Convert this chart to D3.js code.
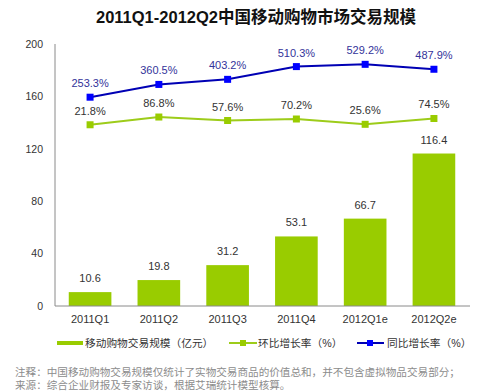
<!DOCTYPE html>
<html>
<head>
<meta charset="utf-8">
<script src="https://cdn.jsdelivr.net/npm/d3@7"></script>
<style>
  body { margin: 0; background: #fff; }
  svg { display: block; }
</style>
</head>
<body>
<div id="chart"></div>
<script>
// data
var categories = ['2011Q1', '2011Q2', '2011Q3', '2011Q4', '2012Q1e', '2012Q2e'];
var scaleValues = [10.6, 19.8, 31.2, 53.1, 66.7, 116.4];          // 移动购物交易规模（亿元）
var qoqValues = [21.8, 86.8, 57.6, 70.2, 25.6, 74.5];               // 环比增长率（%）
var yoyValues = [253.3, 360.5, 403.2, 510.3, 529.2, 487.9];         // 同比增长率（%）
var yTicks = [0, 40, 80, 120, 160, 200];
var titleText = '2011Q1-2012Q2中国移动购物市场交易规模';
var legendLabels = ['移动购物交易规模（亿元）', '环比增长率（%）', '同比增长率（%）'];
var noteLines = [
    '注释：中国移动购物交易规模仅统计了实物交易商品的价值总和，并不包含虚拟物品交易部分；',
    '来源：综合企业财报及专家访谈，根据艾瑞统计模型核算。'
];

var attrs = {
    width: 482,
    height: 392,
    left: 55,
    right: 469,
    top: 44,
    bottom: 306,
    font: '"Liberation Sans", "Noto Sans CJK SC", sans-serif',
    barColor: '#99cc00',
    greenLine: '#9dcc1a',
    blueLine: '#0000b4',
    blueMark: '#0000ff',
    axisColor: '#8a8a8a',
    textColor: '#333',
    blueText: '#33339a',
    noteColor: '#8c8c8c'
};

var svg = d3.select('#chart').append('svg')
    .attr('width', attrs.width)
    .attr('height', attrs.height)
    .attr('font-family', attrs.font);

// scales
var x = d3.scaleBand()
    .domain(categories)
    .range([attrs.left, attrs.right])
    .paddingInner(0.38)
    .paddingOuter(0.2);

var y = d3.scaleLinear()
    .domain([0, 200])
    .range([attrs.bottom, attrs.top]);

// hidden secondary axis for the rates
var y2 = d3.scaleLinear()
    .domain([-1500, 700])
    .range([attrs.bottom, attrs.top]);

// title
svg.append('text')
    .attr('x', 256)
    .attr('y', 23)
    .attr('text-anchor', 'middle')
    .attr('font-size', 16.5)
    .attr('font-weight', 'bold')
    .attr('fill', '#111')
    .text(titleText);

// y axis
var yAxis = d3.axisLeft(y).tickValues(yTicks).tickSize(0).tickPadding(12);
var gy = svg.append('g')
    .attr('transform', 'translate(' + attrs.left + ',0)')
    .call(yAxis);
gy.select('.domain').attr('stroke', attrs.axisColor).attr('d', 'M0,' + attrs.top + 'V' + attrs.bottom);
gy.selectAll('text').attr('font-size', 10.5).attr('fill', attrs.textColor).attr('font-family', attrs.font);

// bars
svg.append('g').selectAll('rect')
    .data(scaleValues)
    .join('rect')
    .attr('x', (d, i) => x(categories[i]))
    .attr('y', d => y(d))
    .attr('width', x.bandwidth())
    .attr('height', d => y(0) - y(d))
    .attr('fill', attrs.barColor);

svg.append('g').selectAll('text')
    .data(scaleValues)
    .join('text')
    .attr('x', (d, i) => x(categories[i]) + x.bandwidth() / 2)
    .attr('y', d => y(d) - 10)
    .attr('text-anchor', 'middle')
    .attr('font-size', 11)
    .attr('fill', attrs.textColor)
    .text(d => d.toFixed(1));

// x axis
var xAxis = d3.axisBottom(x).tickSize(0).tickPadding(9);
var gx = svg.append('g')
    .attr('transform', 'translate(0,' + attrs.bottom + ')')
    .call(xAxis);
gx.select('.domain').attr('stroke', attrs.axisColor).attr('d', 'M' + attrs.left + ',0H' + (attrs.right + 1));
gx.selectAll('text').attr('font-size', 11).attr('fill', attrs.textColor).attr('font-family', attrs.font);

// lines
var line = d3.line()
    .x((d, i) => x(categories[i]) + x.bandwidth() / 2)
    .y(d => y2(d));

function drawSeries(values, lineColor, markColor, labelColor) {
    var g = svg.append('g');
    g.append('path')
        .datum(values)
        .attr('d', line)
        .attr('fill', 'none')
        .attr('stroke', lineColor)
        .attr('stroke-width', 2);
    g.selectAll('rect')
        .data(values)
        .join('rect')
        .attr('x', (d, i) => x(categories[i]) + x.bandwidth() / 2 - 3.5)
        .attr('y', d => y2(d) - 3.5)
        .attr('width', 7)
        .attr('height', 7)
        .attr('fill', markColor);
    g.selectAll('text')
        .data(values)
        .join('text')
        .attr('x', (d, i) => x(categories[i]) + x.bandwidth() / 2)
        .attr('y', d => y2(d) - 10)
        .attr('text-anchor', 'middle')
        .attr('font-size', 11)
        .attr('fill', labelColor)
        .text(d => d.toFixed(1) + '%');
}

drawSeries(qoqValues, attrs.greenLine, attrs.barColor, attrs.textColor);
drawSeries(yoyValues, attrs.blueLine, attrs.blueMark, attrs.blueText);

// legend
var legend = svg.append('g').attr('font-size', 10.7).attr('fill', attrs.textColor);
var ly = 343;
legend.append('rect').attr('x', 57).attr('y', ly - 2).attr('width', 26).attr('height', 4).attr('fill', attrs.barColor);
legend.append('text').attr('x', 85).attr('y', ly + 4).text(legendLabels[0]);

legend.append('line').attr('x1', 229).attr('x2', 257).attr('y1', ly).attr('y2', ly)
    .attr('stroke', attrs.greenLine).attr('stroke-width', 2);
legend.append('rect').attr('x', 240).attr('y', ly - 3).attr('width', 6).attr('height', 6).attr('fill', attrs.barColor);
legend.append('text').attr('x', 258).attr('y', ly + 4).text(legendLabels[1]);

legend.append('line').attr('x1', 357).attr('x2', 384).attr('y1', ly).attr('y2', ly)
    .attr('stroke', attrs.blueLine).attr('stroke-width', 2);
legend.append('rect').attr('x', 367).attr('y', ly - 3).attr('width', 6).attr('height', 6).attr('fill', attrs.blueMark);
legend.append('text').attr('x', 387).attr('y', ly + 4).text(legendLabels[2]);

// notes
svg.append('g').selectAll('text')
    .data(noteLines)
    .join('text')
    .attr('x', 15)
    .attr('y', (d, i) => 376 + i * 13)
    .attr('font-size', 10.6)
    .attr('fill', attrs.noteColor)
    .text(d => d);
</script>
</body>
</html>
